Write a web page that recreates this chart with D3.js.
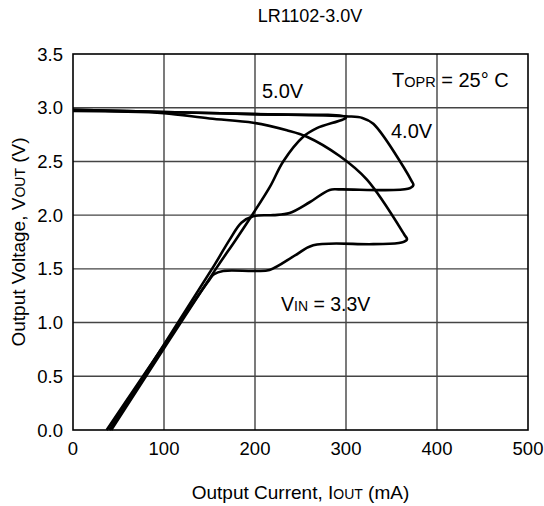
<!DOCTYPE html>
<html>
<head>
<meta charset="utf-8">
<script src="https://cdn.jsdelivr.net/npm/d3@7"></script>
<style>
  body { margin: 0; background: #fff; }
  svg text { font-family: "Liberation Sans", Arial, Helvetica, sans-serif; fill: #000; }
</style>
</head>
<body>
<svg id="chart" width="544" height="506"></svg>
<script>
/// Data (output current mA, output voltage V)
var xTicks = [0, 100, 200, 300, 400, 500];
var yTicks = [0.0, 0.5, 1.0, 1.5, 2.0, 2.5, 3.0, 3.5];

var vin33 = [
  [0, 2.97], [50, 2.965], [100, 2.95], [150, 2.90], [198, 2.86], [235, 2.79],
  [257, 2.73], [293, 2.55], [323, 2.33], [364, 1.82], [367, 1.775], [361, 1.745],
  [330, 1.73], [264, 1.72], [245, 1.63], [216, 1.49], [200, 1.48], [165, 1.48],
  [155, 1.45], [150, 1.40], [37, 0]
];
var vin40 = [
  [0, 2.98], [100, 2.96], [200, 2.94], [300, 2.92], [318, 2.905], [330, 2.85],
  [372, 2.32], [374, 2.28], [368, 2.245], [293, 2.24], [282, 2.235], [260, 2.12],
  [238, 2.02], [220, 2.0], [198, 1.99], [185, 1.93], [172, 1.77], [155, 1.53], [40, 0]
];
var vin50 = [
  [0, 2.98], [100, 2.96], [200, 2.94], [300, 2.91], [268, 2.81], [253, 2.73],
  [231, 2.50], [216.5, 2.265], [196, 1.99], [178, 1.76], [157, 1.50], [42, 0]
];
var curves = [vin33, vin40, vin50];

var svg = d3.select("#chart");
var margin = {left: 73, right: 16, top: 54, bottom: 76};
var W = 544, H = 506;

var x = d3.scaleLinear().domain([0, 500]).range([margin.left, W - margin.right]);
var y = d3.scaleLinear().domain([0, 3.5]).range([H - margin.bottom, margin.top]);

// grid
svg.append("g").selectAll("line").data(xTicks.slice(1, -1)).enter().append("line")
  .attr("x1", function(d) { return x(d); }).attr("x2", function(d) { return x(d); })
  .attr("y1", y(0)).attr("y2", y(3.5))
  .style("stroke", "#222").style("stroke-width", 1.2);
svg.append("g").selectAll("line").data(yTicks.slice(1, -1)).enter().append("line")
  .attr("y1", function(d) { return y(d); }).attr("y2", function(d) { return y(d); })
  .attr("x1", x(0)).attr("x2", x(500))
  .style("stroke", "#444").style("stroke-width", 1.4);

// frame
svg.append("rect")
  .attr("x", x(0)).attr("y", y(3.5))
  .attr("width", x(500) - x(0)).attr("height", y(0) - y(3.5))
  .style("fill", "none").style("stroke", "#000").style("stroke-width", 1.6);

// tick labels
svg.append("g").selectAll("text").data(yTicks).enter().append("text")
  .attr("x", x(0) - 10).attr("y", function(d) { return y(d) + 6.5; })
  .attr("text-anchor", "end").style("font-size", "18.5px")
  .text(function(d) { return d.toFixed(1); });
svg.append("g").selectAll("text").data(xTicks).enter().append("text")
  .attr("x", function(d) { return x(d); }).attr("y", y(0) + 25)
  .attr("text-anchor", "middle").style("font-size", "18.5px")
  .text(function(d) { return d; });

// curves
var line = d3.line()
  .x(function(d) { return x(d[0]); })
  .y(function(d) { return y(d[1]); })
  .curve(d3.curveCatmullRom.alpha(0.5));
svg.append("g").selectAll("path").data(curves).enter().append("path")
  .attr("d", line)
  .style("fill", "none").style("stroke", "#000").style("stroke-width", 2.6)
  .style("stroke-linejoin", "round");

// texts
svg.append("text").attr("x", 310).attr("y", 22).attr("text-anchor", "middle")
  .style("font-size", "18px").text("LR1102-3.0V");

svg.append("text").attr("x", 262).attr("y", 98).style("font-size", "20px").text("5.0V");
svg.append("text").attr("x", 391).attr("y", 138).style("font-size", "20px").text("4.0V");

var t = svg.append("text").attr("x", 392).attr("y", 87).style("font-size", "20px");
t.append("tspan").text("T");
t.append("tspan").style("font-size", "14.5px").text("OPR");
t.append("tspan").text(" = 25° C");

var v = svg.append("text").attr("x", 281).attr("y", 311).style("font-size", "19.5px");
v.append("tspan").text("V");
v.append("tspan").style("font-size", "14px").text("IN");
v.append("tspan").text(" = 3.3V");

var xt = svg.append("text").attr("x", (x(0) + x(500)) / 2).attr("y", 499)
  .attr("text-anchor", "middle").style("font-size", "19px");
xt.append("tspan").text("Output Current, I");
xt.append("tspan").style("font-size", "14px").text("OUT");
xt.append("tspan").text(" (mA)");

var yt = svg.append("text")
  .attr("transform", "translate(25," + ((y(0) + y(3.5)) / 2) + ") rotate(-90)")
  .attr("text-anchor", "middle").style("font-size", "19px");
yt.append("tspan").text("Output Voltage, V");
yt.append("tspan").style("font-size", "14px").text("OUT");
yt.append("tspan").text(" (V)");
</script>
</body>
</html>
